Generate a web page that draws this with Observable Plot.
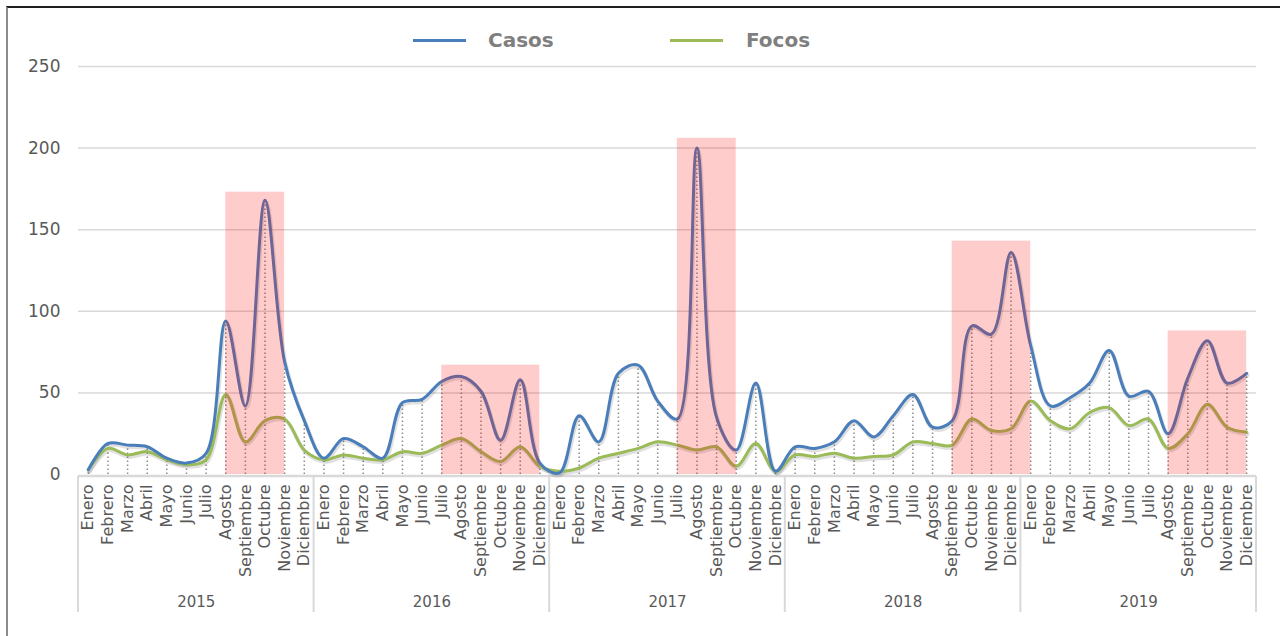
<!DOCTYPE html>
<html>
<head>
<meta charset="utf-8">
<script src="https://cdn.jsdelivr.net/npm/d3@7"></script>
<script src="https://cdn.jsdelivr.net/npm/@observablehq/plot@0.6"></script>
<style>
  body { margin: 0; background: #fff; }
  #page { position: relative; width: 1280px; height: 636px; overflow: hidden; font-family: "DejaVu Sans", sans-serif; background: #fff; }
  #frame { position: absolute; left: 6px; top: 6px; width: 1290px; height: 640px; border-top: 2px solid #1e1e1e; border-left: 2px solid #8c8c8c; box-sizing: border-box; }
  #legend { position: absolute; left: 0; top: 0; width: 1280px; height: 50px; }
  .sw { position: absolute; top: 39px; width: 53px; height: 3px; }
  .lt { position: absolute; top: 27px; font-size: 20px; font-weight: bold; color: #7f7f7f; line-height: 26px; }
  #chart { position: absolute; left: 0; top: 50px; }
</style>
</head>
<body>
<div id="page">
  <div id="frame"></div>
  <div id="legend"></div>
  <div id="chart"></div>
</div>
<script>
// ---- data ----
const months = ["Enero","Febrero","Marzo","Abril","Mayo","Junio","Julio","Agosto","Septiembre","Octubre","Noviembre","Diciembre"];
const years = [2015, 2016, 2017, 2018, 2019];
const casos = [
  3, 19, 18, 17, 10, 7, 13, 94, 42, 168, 69, 33,
  10, 22, 17, 10, 44, 46, 57, 60, 51, 21, 58, 7,
  1, 36, 20, 62, 67, 45, 34, 200, 35, 15, 56, 2,
  17, 16, 20, 33, 23, 36, 49, 29, 33, 91, 86, 136,
  79, 42, 47, 56, 76, 48, 51, 25, 59, 82, 56, 62
];
const focos = [
  3, 16, 12, 14, 9, 6, 9, 49, 20, 33, 34, 15,
  9, 12, 10, 9, 14, 13, 18, 22, 14, 8, 17, 5,
  2, 4, 10, 13, 16, 20, 18, 15, 17, 5, 19, 2,
  12, 11, 13, 10, 11, 12, 20, 19, 18, 34, 27, 28,
  45, 33, 28, 38, 41, 30, 34, 16, 25, 43, 29, 26
];
const yTicks = [0, 50, 100, 150, 200, 250];
// highlighted periods: first month index, last month index, height
const hlStart = [7, 18, 30, 44, 55];
const hlEnd   = [10, 23, 33, 48, 59];
const hlTop   = [173, 67, 206, 143, 88];
const seriesNames = ["Casos", "Focos"];
const seriesColors = ["#4a7ebb", "#9bbb59"];

// ---- legend ----
const legend = document.getElementById("legend");
const legendPos = [[413, 488], [670, 746]];
seriesNames.forEach((n, k) => {
  const sw = document.createElement("div");
  sw.className = "sw"; sw.style.left = legendPos[k][0] + "px"; sw.style.background = seriesColors[k];
  const t = document.createElement("div");
  t.className = "lt"; t.style.left = legendPos[k][1] + "px"; t.textContent = n;
  legend.appendChild(sw); legend.appendChild(t);
});

// ---- chart ----
const N = casos.length;
const data = casos.map((c, i) => ({ i, casos: c, focos: focos[i], month: months[i % 12], year: years[Math.floor(i / 12)] }));
const highlights = hlStart.map((s, k) => ({ start: s, end: hlEnd[k], top: hlTop[k] }));
const yearBounds = d3.range(years.length + 1).map(k => k * 12 - 0.5);
const yearCenters = years.map((y, k) => ({ year: String(y), x: k * 12 + 5.5 }));
const curve = "catmull-rom";

const plot = Plot.plot({
  width: 1280, height: 586,
  marginTop: 16, marginBottom: 162, marginLeft: 78, marginRight: 24,
  x: { domain: [-0.5, N - 0.5], axis: null },
  y: { domain: [0, 250], axis: null },
  style: { fontFamily: "DejaVu Sans", color: "#595959", background: "transparent", overflow: "visible" },
  marks: [
    Plot.gridY(yTicks.slice(1), { stroke: "#d9d9d9", strokeOpacity: 1, strokeWidth: 1.5 }),
    Plot.axisY(yTicks, { tickSize: 0, tickPadding: 18, fontSize: 17, fill: "#595959" }),
    Plot.ruleY([0], { stroke: "#d9d9d9", strokeWidth: 2.5, dy: 1.5 }),
    Plot.ruleX(data, { x: "i", y1: 0, y2: d => Math.max(d.casos, d.focos), stroke: "#8c8c8c", strokeWidth: 1.5, strokeDasharray: "1.5,2.5" }),
    Plot.line(data, { x: "i", y: "focos", stroke: "#000", strokeOpacity: 0.12, strokeWidth: 4, curve, dx: 1, dy: 2 }),
    Plot.line(data, { x: "i", y: "casos", stroke: "#000", strokeOpacity: 0.12, strokeWidth: 4, curve, dx: 1, dy: 2 }),
    Plot.line(data, { x: "i", y: "focos", stroke: seriesColors[1], strokeWidth: 3, curve }),
    Plot.line(data, { x: "i", y: "casos", stroke: seriesColors[0], strokeWidth: 3, curve }),
    Plot.rect(highlights, { x1: "start", x2: "end", y1: 0, y2: "top", fill: "#ff0000", fillOpacity: 0.2 }),
    Plot.text(data, { x: "i", y: 0, text: "month", rotate: -90, textAnchor: "end", dy: 10, fontSize: 16, fill: "#595959" }),
    Plot.text(yearCenters, { x: "x", y: 0, text: "year", dy: 128, fontSize: 15, fill: "#595959" })
  ]
});

// year separators under the axis, placed through the plot's own scales
const xs = plot.scale("x"), ys = plot.scale("y");
d3.select(plot).append("g")
  .selectAll("line").data(yearBounds).join("line")
  .attr("x1", d => xs.apply(d)).attr("x2", d => xs.apply(d))
  .attr("y1", ys.apply(0) + 2).attr("y2", ys.apply(0) + 138)
  .attr("stroke", "#d9d9d9").attr("stroke-width", 2);

document.getElementById("chart").appendChild(plot);
</script>
</body>
</html>
